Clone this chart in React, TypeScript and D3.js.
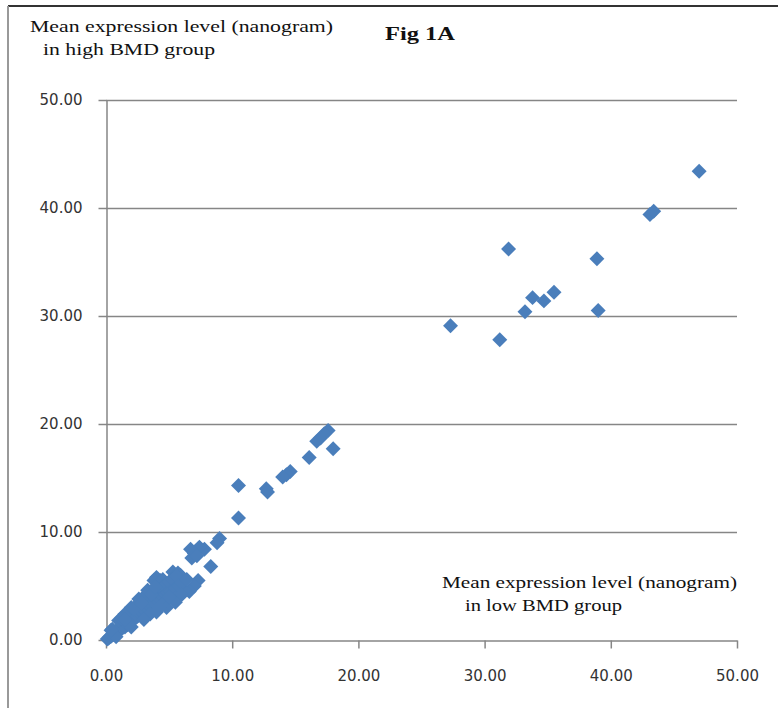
import React, { useEffect, useRef } from "react";
import * as d3 from "d3";

// mean expression (nanogram), low BMD group on x, high BMD group on y
const lowBmd = [
  47.0, 43.1, 43.4, 31.9, 38.9, 27.3, 31.2, 33.2, 33.8, 34.7, 35.5, 39.0,
  17.6, 17.3, 17.0, 16.7, 18.0, 16.1, 14.6, 14.3, 14.0, 12.7, 12.8, 10.5,
  10.5, 9.0, 8.8, 8.3, 7.8, 7.4, 7.0, 6.7, 6.8, 7.2, 7.3, 7.0, 6.6, 6.2,
  4.0, 4.3, 4.7, 5.3, 5.7, 5.9, 5.5, 3.8, 4.5,
  0.1, 0.2, 0.3, 0.4, 0.5, 0.6, 0.7, 0.8, 0.9, 1.0, 1.1, 1.2, 1.3, 1.4, 1.5,
  1.6, 1.7, 1.8, 1.9, 2.0, 2.1, 2.2, 2.3, 2.4, 2.5, 2.6, 2.7, 2.8, 2.9, 3.0,
  3.1, 3.2, 3.3, 3.4, 3.5, 3.6, 3.7, 3.8, 3.9, 4.0, 4.1, 4.2, 4.3, 4.4, 4.5,
  4.6, 4.7, 4.8, 4.9, 5.0, 5.1, 5.3, 5.5, 5.6, 5.8, 6.0, 6.4,
  1.5, 2.5, 3.5, 3.5, 4.5, 5.5, 6.0,
  2.0, 3.0, 4.0, 4.8, 5.5, 1.0, 2.0, 3.0, 2.6, 3.3, 0.5, 1.2, 0.8,
  2.2, 2.8, 3.6, 4.2, 1.5, 0.4, 5.0, 3.9,
];
const highBmd = [
  43.4, 39.4, 39.7, 36.2, 35.3, 29.1, 27.8, 30.4, 31.7, 31.4, 32.2, 30.5,
  19.4, 19.1, 18.7, 18.4, 17.7, 16.9, 15.6, 15.3, 15.1, 14.0, 13.7, 14.3,
  11.3, 9.4, 9.0, 6.8, 8.4, 8.6, 8.0, 8.4, 7.6, 7.8, 5.5, 5.0, 4.5, 4.6,
  5.8, 5.5, 5.3, 6.3, 6.2, 6.0, 5.9, 5.5, 5.6,
  0.1, 0.15, 0.3, 0.35, 0.45, 0.6, 0.55, 0.8, 0.7, 1.0, 0.9, 1.3, 1.1, 1.5, 1.2,
  1.7, 1.4, 2.0, 1.6, 2.3, 1.8, 2.5, 2.0, 2.6, 2.2, 2.8, 2.4, 3.0, 2.5, 3.2,
  2.7, 3.4, 2.9, 3.6, 3.1, 3.8, 3.2, 4.0, 3.4, 4.3, 3.6, 4.6, 3.8, 4.8, 4.0,
  5.0, 4.2, 5.2, 4.4, 5.4, 4.5, 5.6, 4.8, 5.9, 5.0, 5.3, 5.6,
  2.4, 3.3, 4.4, 2.4, 3.3, 3.9, 4.2,
  1.2, 1.9, 2.6, 3.0, 3.5, 1.8, 3.0, 4.0, 3.8, 4.6, 1.0, 2.0, 0.3,
  2.9, 3.4, 4.2, 3.0, 1.9, 0.9, 4.0, 4.9,
];
const tickValues = [0, 10, 20, 30, 40, 50];

const App = () => {
  const svgRef = useRef<SVGSVGElement>(null);

  useEffect(() => {
    const svg = d3.select(svgRef.current);
    svg.selectAll("*").remove();

    const x = d3.scaleLinear().domain([0, 50]).range([106, 737]);
    const y = d3.scaleLinear().domain([0, 50]).range([640, 100]);
    const axisColor = "#868686";
    const labelFont = "'DejaVu Sans', Verdana, sans-serif";
    const serif = "'Liberation Serif', 'Times New Roman', serif";

    // outer frame
    svg.append("line").attr("x1", 8).attr("x2", 778).attr("y1", 6).attr("y2", 6)
      .attr("stroke", "#333").attr("stroke-width", 2);
    svg.append("line").attr("x1", 8).attr("x2", 8).attr("y1", 6).attr("y2", 708)
      .attr("stroke", "#999").attr("stroke-width", 2);

    // horizontal gridlines
    svg.append("g")
      .selectAll("line")
      .data(tickValues.slice(1))
      .enter()
      .append("line")
      .attr("x1", x(0))
      .attr("x2", x(50))
      .attr("y1", (d) => Math.round(y(d)) + 0.5)
      .attr("y2", (d) => Math.round(y(d)) + 0.5)
      .attr("stroke", axisColor)
      .attr("stroke-width", 1.5);

    const xAxis = svg.append("g")
      .attr("transform", `translate(0, ${y(0) + 0.5})`)
      .call(d3.axisBottom(x).tickValues(tickValues).tickFormat(d3.format(".2f")).tickSizeInner(8).tickSizeOuter(0).tickPadding(22));
    const yAxis = svg.append("g")
      .attr("transform", `translate(${x(0) + 0.5}, 0)`)
      .call(d3.axisLeft(y).tickValues(tickValues).tickFormat(d3.format(".2f")).tickSizeInner(8).tickSizeOuter(0).tickPadding(16));

    [xAxis, yAxis].forEach((g) => {
      g.select(".domain").attr("stroke", axisColor).attr("stroke-width", 1.5);
      g.selectAll(".tick line").attr("stroke", axisColor).attr("stroke-width", 1.5);
      g.selectAll(".tick text")
        .attr("fill", "#333")
        .attr("font-family", labelFont)
        .attr("font-size", 15);
    });

    // points
    const diamond = d3.symbol().type(d3.symbolSquare).size(112);
    svg.append("g")
      .selectAll("path")
      .data(lowBmd.map((v, i) => [v, highBmd[i]]))
      .enter()
      .append("path")
      .attr("d", diamond)
      .attr("transform", (d) => `translate(${x(d[0])}, ${y(d[1])}) rotate(45)`)
      .attr("fill", "#4a7ebb");

    // titles
    const addText = (t: string, px: number, py: number, len: number, bold = false, size = 17) => {
      svg.append("text")
        .attr("x", px)
        .attr("y", py)
        .attr("font-family", serif)
        .attr("font-size", size)
        .attr("font-weight", bold ? "bold" : "normal")
        .attr("fill", "#111")
        .attr("textLength", len)
        .attr("lengthAdjust", "spacingAndGlyphs")
        .text(t);
    };
    addText("Mean expression level (nanogram)", 30, 32, 303);
    addText("in high BMD group", 43, 55, 172);
    addText("Fig 1A", 385, 40, 70, true, 19);
    addText("Mean expression level (nanogram)", 442, 588, 295);
    addText("in low BMD group", 465, 611, 157);
  }, []);

  return (
    <svg
      ref={svgRef}
      width={778}
      height={708}
      style={{ position: "absolute", left: 0, top: 0, background: "#fff" }}
    />
  );
};

export default App;
